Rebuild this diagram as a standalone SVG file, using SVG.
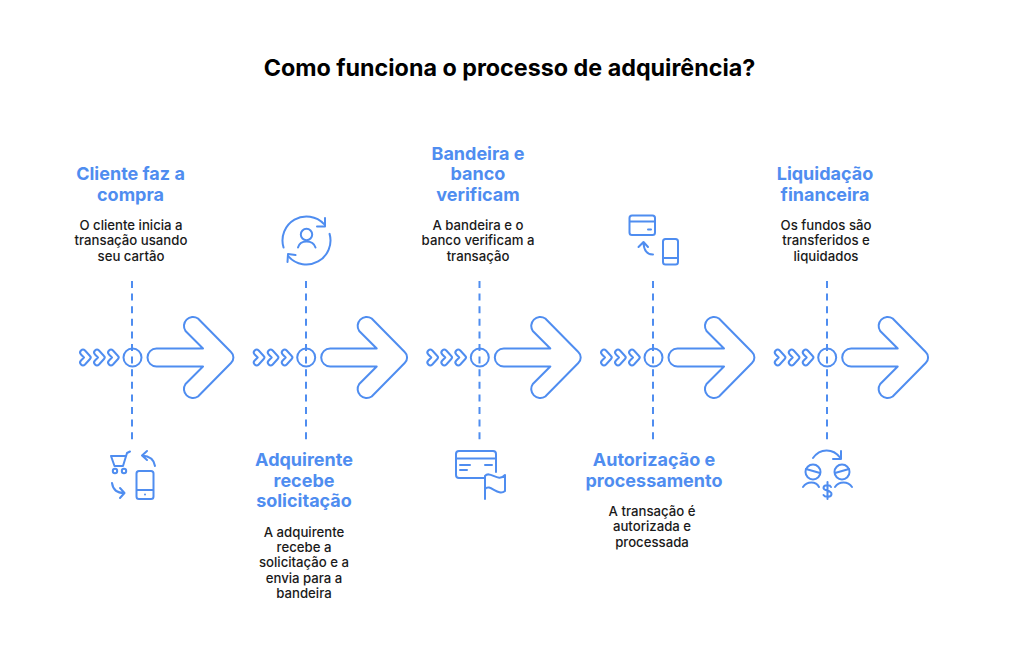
<svg xmlns="http://www.w3.org/2000/svg" width="1024" height="667" viewBox="0 0 1024 667">
<style>
.s{fill:none;stroke:#4f8df0;stroke-width:2;stroke-linecap:round;stroke-linejoin:round}
.d{fill:none;stroke:#4f8df0;stroke-width:2;stroke-dasharray:7 5.600}
.t{font-family:"Inter","Open Sans",sans-serif;font-weight:700;font-size:18px;fill:#4f8df0;text-anchor:middle}
.b{font-family:"Inter","Open Sans",sans-serif;font-weight:500;font-size:13.200px;fill:#1a1a1a;text-anchor:middle}
.h{font-family:"Inter","Open Sans",sans-serif;font-weight:700;font-size:23.300px;fill:#000;text-anchor:middle}
</style>
<defs>
<g id="flow">
<path class="s" d="M81 350.500Q83 348.500 85 350.500L90 356Q91.500 357.500 90 359L85 364.500Q83 366.500 81 364.500Q79 362.500 81 360.500L84 357.500L81 354.500Q79 352.500 81 350.500Z"/>
<path class="s" d="M95 350.500Q97 348.500 99 350.500L104 356Q105.500 357.500 104 359L99 364.500Q97 366.500 95 364.500Q93 362.500 95 360.500L98 357.500L95 354.500Q93 352.500 95 350.500Z"/>
<path class="s" d="M109 350.500Q111 348.500 113 350.500L118 356Q119.500 357.500 118 359L113 364.500Q111 366.500 109 364.500Q107 362.500 109 360.500L112 357.500L109 354.500Q107 352.500 109 350.500Z"/>
<circle class="s" cx="132.500" cy="357.500" r="9"/>
<path class="s" d="M156.500 348.500H203L185.500 331A9 9 0 0 1 198 318.500L231 352A7.500 7.500 0 0 1 231 363L198 396.500A9 9 0 0 1 185.500 384L203 366.500H156.500A9 9 0 0 1 156.500 348.500Z"/>
</g>
</defs>
<text class="h" x="509.500" y="75.500">Como funciona o processo de adquirência?</text>
<g id="connectors">
<path class="d" d="M132 281V441"/>
<path class="d" d="M306 281V441"/>
<path class="d" d="M479.500 281V441"/>
<path class="d" d="M653 281V441"/>
<path class="d" d="M827 281V441"/>
</g>
<g id="step1">
<use href="#flow"/>
<text class="t"><tspan x="130.500" y="180">Cliente faz a</tspan><tspan x="130.500" y="201">compra</tspan></text>
<text class="b"><tspan x="131" y="230">O cliente inicia a</tspan><tspan x="131" y="245">transação usando</tspan><tspan x="131" y="261">seu cartão</tspan></text>
<path class="s" d="M130 451.500L127 453L123 466H114.500L111 456H126"/>
<circle class="s" cx="115" cy="471" r="2.200"/><circle class="s" cx="124" cy="471" r="2.200"/>
<rect class="s" x="136.500" y="471" width="17" height="28" rx="2.500"/>
<path class="s" d="M137 490H153"/>
<circle cx="145" cy="494.500" r="1" fill="#4f8df0"/>
<path class="s" d="M155 466C154 459 149 456 142 455.500M147 451L142 455.500L147 460"/>
<path class="s" d="M112 483C113 490 118 493 124 493M120 488L124.500 493L120 498"/>
</g>
<g id="step2">
<use href="#flow" x="173.700"/>
<text class="t"><tspan x="304" y="466">Adquirente</tspan><tspan x="304" y="487">recebe</tspan><tspan x="304" y="507">solicitação</tspan></text>
<text class="b"><tspan x="304" y="536.500">A adquirente</tspan><tspan x="304" y="552">recebe a</tspan><tspan x="304" y="567">solicitação e a</tspan><tspan x="304" y="582.500">envia para a</tspan><tspan x="304" y="598">bandeira</tspan></text>
<path class="s" d="M283.550 247.520A24 24 0 0 1 324.050 224.130M329.570 233.890A24 24 0 0 1 288.670 256.560"/>
<path class="s" d="M325 218L325 226.500L317 226.500M287.500 262L288 254L295.500 255"/>
<circle class="s" cx="306.500" cy="234.500" r="5.700"/>
<path class="s" d="M298 247.500C300 239.500 313 239.500 315.500 247.500"/>
</g>
<g id="step3">
<use href="#flow" x="347.300"/>
<text class="t"><tspan x="478" y="160">Bandeira e</tspan><tspan x="478" y="180">banco</tspan><tspan x="478" y="201">verificam</tspan></text>
<text class="b"><tspan x="478" y="230">A bandeira e o</tspan><tspan x="478" y="245">banco verificam a</tspan><tspan x="478" y="261">transação</tspan></text>
<path class="s" d="M484 478H459Q456 478 456 475V454Q456 451 459 451H493Q496 451 496 454V472M456 458.500H496M460 465H470M460 470H467M485 465H492"/>
<path class="s" d="M485 499V476C490 470 498 483 505 475V491C498 497 490 483 485 489"/>
</g>
<g id="step4">
<use href="#flow" x="521"/>
<text class="t"><tspan x="654" y="466">Autorização e</tspan><tspan x="654" y="487">processamento</tspan></text>
<text class="b"><tspan x="652" y="516">A transação é</tspan><tspan x="652" y="531">autorizada e</tspan><tspan x="652" y="547">processada</tspan></text>
<rect class="s" x="629.500" y="215.500" width="25.500" height="19.500" rx="2.500"/>
<path class="s" d="M630 221.500H654.500M648 229.500H651"/>
<rect class="s" x="663" y="239" width="15" height="25.500" rx="2.500"/>
<path class="s" d="M663 258H678"/>
<path class="s" d="M653 254.500C647 254.500 644 251 643.500 243M638.500 247L643.500 242L648 247"/>
</g>
<g id="step5">
<use href="#flow" x="694.700"/>
<text class="t"><tspan x="825" y="180">Liquidação</tspan><tspan x="825" y="201">financeira</tspan></text>
<text class="b"><tspan x="826" y="230">Os fundos são</tspan><tspan x="826" y="245">transferidos e</tspan><tspan x="826" y="261">liquidados</tspan></text>
<path class="s" d="M813 458C820 448 833 448 840 457.500M841 451V459H833"/>
<circle class="s" cx="813" cy="472" r="7.500"/><circle class="s" cx="842" cy="472" r="7.500"/>
<path class="s" d="M806 469L820 473M849 469L835 473"/>
<path class="s" d="M803 487C807 481 816 481 819 487M835 487C839 481 848 481 852 487"/>
<path class="s" d="M831 487C830 484.500 823.500 484.500 823.500 488C823.500 491 831.500 490 831.500 494C831.500 497.500 825 497.500 823.500 495M827.500 482V499"/>
</g>
</svg>
